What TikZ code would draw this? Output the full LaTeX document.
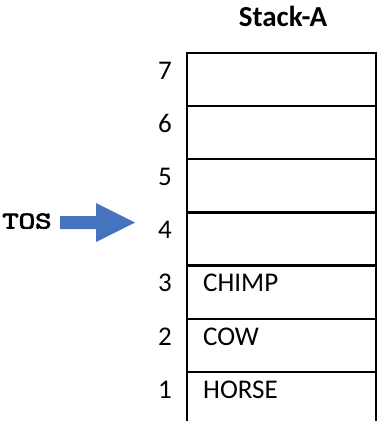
\documentclass[tikz,border=0pt]{standalone}
\usepackage{fontspec}
\setmainfont{Carlito}
\newfontfamily\tosfont{Latin Modern Mono}[FakeBold=3]
\definecolor{arrowblue}{HTML}{4673BE}
\begin{document}
\begin{tikzpicture}[x=1pt,y=-1pt,
  cell/.style={rectangle,minimum width=189.3pt,minimum height=53.2pt,inner sep=0pt,outer sep=0pt,anchor=north west},
  idx/.style={font=\fontsize{27}{30}\selectfont,anchor=base,inner sep=0pt},
  item/.style={font=\fontsize{27}{30}\selectfont,anchor=base west,inner sep=0pt},
  border/.style={line width=2.4pt,black}]
\useasboundingbox (0,0) rectangle (378,421);
\foreach \n/\k in {7/0,6/1,5/2,4/3,3/4,2/5,1/6}{
  \node[cell] (c\n) at (186.7,52.7+53.2*\k) {};
  \node[idx] (n\n) at (165,52.7+53.2*\k+26.3) {\n};
}
\node[item] (t3) at (203,265.5+26.3) {CHIMP};
\node[item] (t2) at (203,318.7+26.3) {COW};
\node[item] (t1) at (203,371.9+26.3) {HORSE};
\node[font=\fontsize{29}{32}\selectfont\bfseries,anchor=base,inner sep=0pt] (title) at (283,26.7) {Stack-A};
\node[font=\tosfont\fontsize{24}{27}\selectfont,anchor=base west,inner sep=0pt,xscale=1.33,transform shape] (tos) at (2,228.5) {TOS};
% borders
\coordinate (bl) at (186.7,421);
\coordinate (br) at (376,421);
\foreach \n in {7,6,5,4,3,2,1}{
  \draw[border] (c\n.north west) -- (c\n.north east);
}
\draw[border] ([yshift=1.2pt]c7.north west) -- (bl);
\draw[border] ([yshift=1.2pt]c7.north east) -- (c7.north east |- br);
% block arrow
\coordinate (a0) at (60,222.5);
\fill[arrowblue] (a0) ++(0,-6.5) -- ++(36,0) -- ++(0,-13) -- (135,222.5) -- (96,242) -- ++(0,-13) -- ++(-36,0) -- cycle;
\end{tikzpicture}
\end{document}
